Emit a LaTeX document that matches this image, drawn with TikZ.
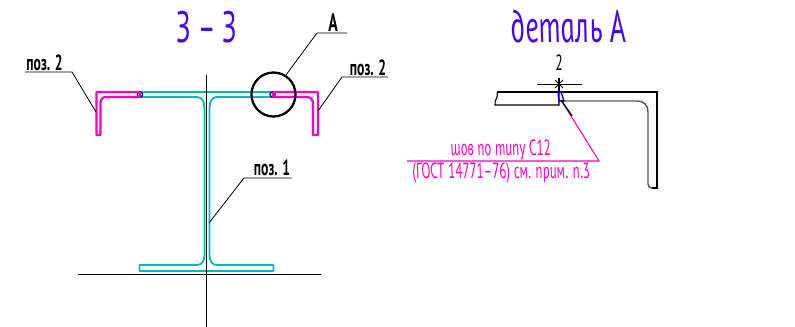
\documentclass[tikz,border=0pt]{standalone}
\usepackage{fontspec}
\setmainfont{PT Sans}
\newfontfamily\gostfont[FakeStretch=0.62, ItalicFeatures={FakeSlant=-0.16}]{PT Sans}
\newfontfamily\titlefont[FakeStretch=0.6, ItalicFeatures={FakeSlant=-0.16}]{PT Sans}
\newfontfamily\detailfont[FakeStretch=0.64, ItalicFeatures={FakeSlant=-0.16}]{PT Sans}
\definecolor{beamteal}{RGB}{0,185,185}
\definecolor{weldpink}{RGB}{255,0,190}
\definecolor{titleblue}{RGB}{70,0,255}
\tikzset{
  titletext/.style={text=titleblue, inner sep=0pt, font=\titlefont\fontsize{33}{33}\selectfont},
  postext/.style={inner sep=0pt, font=\gostfont\bfseries\fontsize{16.5}{16.5}\selectfont},
  welditem/.style={text=weldpink, inner sep=0pt, font=\gostfont\itshape\fontsize{16.5}{17}\selectfont},
  beam/.style={beamteal, line width=1.4pt, line join=round},
  chan/.style={weldpink, line width=1.7pt, line join=round},
  leader/.style={black, line width=0.6pt},
  spotweld/.style={circle, draw=blue!70!black, line width=0.9pt, inner sep=0pt, minimum size=4pt}
}
\begin{document}
\begin{tikzpicture}[x=0.75pt, y=-0.75pt]
  \useasboundingbox (0,0) rectangle (795,327);
  % section
  \node[titletext] (title33) at (207,27) {З – З};
  \draw[beam] (139,92) -- (274,92);
  \draw[beam] (139,97) -- (197,97) .. controls (202,97) and (204.5,102) .. (204.5,108) -- (204.5,255)
    .. controls (204.5,261) and (202,265) .. (197,265) -- (139.5,265) -- (139.5,271) -- (273.5,271) -- (273.5,265) -- (217,265)
    .. controls (212,265) and (209.5,261) .. (209.5,255) -- (209.5,108) .. controls (209.5,102) and (212,97) .. (217,97) -- (274,97);
  \node[spotweld] (weldL) at (140,94.5) {};
  \node[spotweld] (weldR) at (272.5,94.5) {};
  \draw[chan] (139,92) -- (96.5,92) -- (96.5,135) -- (100.5,135) -- (100.5,104)
    .. controls (100.5,100) and (102,97) .. (106,97) -- (138,97) .. controls (141,97) and (141,92) .. (138,92);
  \draw[chan] (275,92) -- (318,92) -- (318,135) -- (313,135) -- (313,104)
    .. controls (313,100) and (311,97) .. (307,97) -- (275,97) .. controls (272,97) and (272,92) .. (275,92);
  \draw[black, line width=0.6pt] (206.5,75) -- (206.5,327);
  \draw[black, line width=0.6pt] (78,274) -- (321,274);
  \node[circle, draw, line width=1.7pt, minimum size=33pt, inner sep=0pt] (circA) at (273.5,94.5) {};
  % leaders
  \node[postext, font=\gostfont\bfseries\fontsize{19}{19}\selectfont] (textA) at (333,23) {А};
  \coordinate (cornerA) at (317,33);
  \coordinate (endA) at (347,33);
  \draw[leader] (circA) ++(12.5,-19.5) -- (cornerA) -- (endA);
  \node[postext] (pos2L) at (44.5,63) {поз. 2};
  \coordinate (cornerL) at (72,72);
  \coordinate (endL) at (25,72);
  \coordinate (chanL) at (96,112);
  \draw[leader] (chanL) -- (cornerL) -- (endL);
  \node[postext] (pos2R) at (368,67.5) {поз. 2};
  \coordinate (cornerR) at (342,77);
  \coordinate (endR) at (388,77);
  \coordinate (chanR) at (318,111);
  \draw[leader] (chanR) -- (cornerR) -- (endR);
  \node[postext] (pos1) at (272,168) {поз. 1};
  \coordinate (cornerP) at (244,178);
  \coordinate (endP) at (292,178);
  \coordinate (webP) at (209,223);
  \draw[leader] (webP) -- (cornerP) -- (endP);
  % detail
  \node[titletext, font=\detailfont\itshape\fontsize{34}{34}\selectfont] (titleA) at (570.5,27) {деталь А};
  \draw[black, line width=0.8pt] (497,92) -- (657,92) -- (657,188) -- (652,188);
  \draw[black, line width=0.8pt] (497,92) .. controls (499,97) and (494,100) .. (495,105) -- (559,105) -- (559,92);
  \draw[gray!70!black, line width=1.1pt] (652,188) .. controls (650,188) and (648,187) .. (648,184) -- (648,112)
    .. controls (648,105) and (644,101) .. (637,101) -- (562,101);
  \coordinate (tickTop) at (559,78);
  \coordinate (tickBot) at (559,92);
  \coordinate (refL) at (537,84);
  \coordinate (refR) at (582,84);
  \draw[black, line width=0.7pt] (refL) -- (refR);
  \draw[black, line width=0.9pt] (tickTop) -- (tickBot);
  \draw[black, line width=0.7pt] (555,80) -- (563,88) (555,88) -- (563,80);
  \node[inner sep=0pt, font=\gostfont\fontsize{16.5}{16.5}\selectfont] (leg2) at (559,63) {2};
  \coordinate (weldTip) at (561,100);
  \coordinate (labelEnd) at (599,161);
  \coordinate (labelStart) at (407,161);
  \draw[weldpink, line width=0.8pt] (weldTip) -- (labelEnd) -- (labelStart);
  \draw[blue!80!black, line width=1pt] (558,92) -- (561,92) -- (564,101) -- (559,101) -- cycle;
  \coordinate (arrowEnd) at (572,116);
  \draw[black, line width=1pt] (weldTip) -- (arrowEnd);
  \node[welditem] (weldtop) at (501.5,150) {шов по типу С12};
  \node[welditem] (weldbot) at (502,173) {(ГОСТ 14771–76) см. прим. п.3};
\end{tikzpicture}
\end{document}
